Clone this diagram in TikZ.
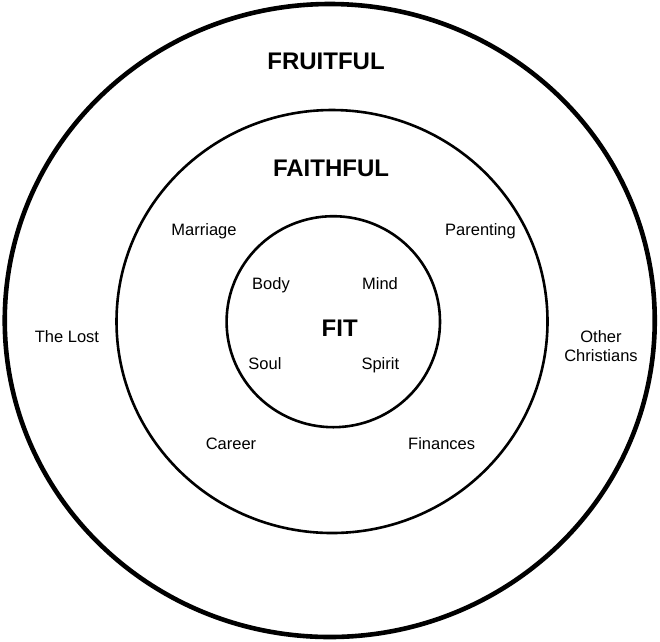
\documentclass[tikz,border=0pt]{standalone}
\usepackage{fontspec}
\setmainfont{Liberation Sans}
\usetikzlibrary{positioning}

\begin{document}
\begin{tikzpicture}[
    x=1pt, y=-1pt,
    ring/.style={draw=black, line width=2.6pt},
    outer/.style={draw=black, line width=4.6pt},
    lbl/.style={anchor=base, inner sep=0pt, align=center, font=\fontsize{16.5}{18.7}\selectfont},
    head/.style={anchor=base, inner sep=0pt, font=\fontsize{24}{28}\selectfont\bfseries}
  ]
    \useasboundingbox (0,0) rectangle (660,641);
    % the three rings
    \draw[outer] (329.75,320.5) ellipse [x radius=325, y radius=316.5];
    \draw[ring] (332,321.5) ellipse [x radius=215.5, y radius=211.5];
    \draw[ring] (333.3,321.7) ellipse [x radius=106.7, y radius=105.5];
    % headings
    \node[head] (fruitful) at (326,69.3) {FRUITFUL};
    \node[head] (faithful) at (331,176.5) {FAITHFUL};
    \node[head] (fit) at (339.7,336) {FIT};
    % inner ring
    \node[lbl] (body) at (271,289.3) {Body};
    \node[lbl] (mind) at (380,289.3) {Mind};
    \node[lbl] (soul) at (265,369.3) {Soul};
    \node[lbl] (spirit) at (380.3,369.3) {Spirit};
    % middle ring
    \node[lbl] (marriage) at (204,235.7) {Marriage};
    \node[lbl] (parenting) at (480.5,235.7) {Parenting};
    \node[lbl] (career) at (231,449.3) {Career};
    \node[lbl] (finances) at (441.7,449.3) {Finances};
    % outer ring
    \node[lbl] (lost) at (67,342.3) {The Lost};
    \node[lbl] (others) at (601,361) {Other\\Christians};
\end{tikzpicture}
\end{document}
